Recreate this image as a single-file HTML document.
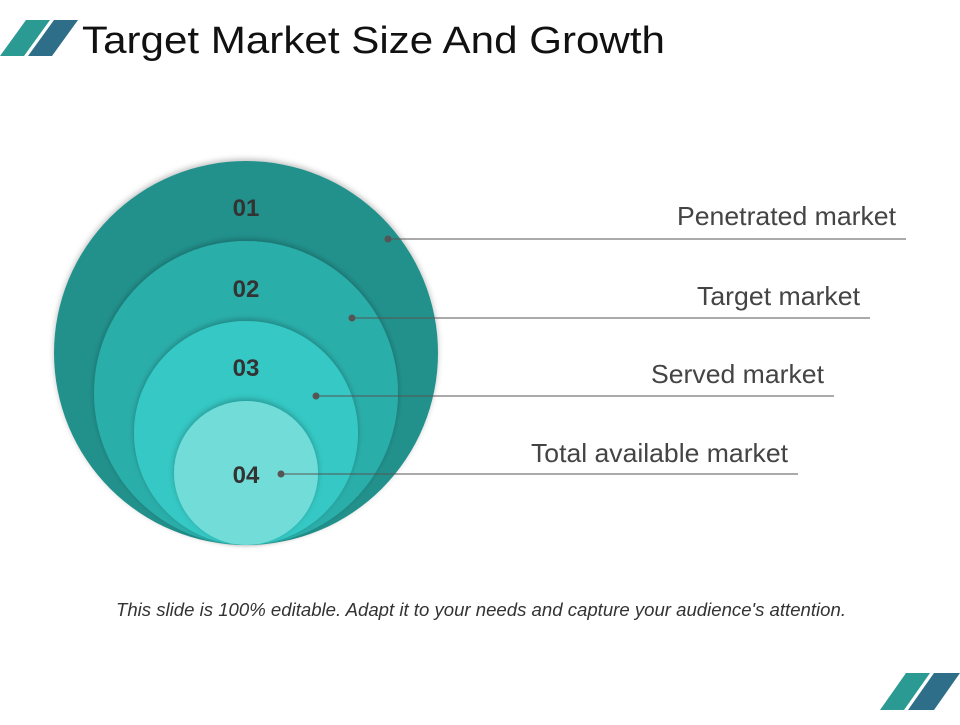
<!DOCTYPE html>
<html><head><meta charset="utf-8"><style>
body{margin:0;background:#fff;width:960px;height:720px;overflow:hidden;font-family:"Liberation Sans",sans-serif}
</style></head><body>
<svg width="960" height="720" viewBox="0 0 960 720">
<defs><filter id="sh" x="-20%" y="-20%" width="140%" height="140%"><feDropShadow dx="0" dy="-2" stdDeviation="3" flood-color="#000" flood-opacity="0.25"/></filter></defs>
<polygon points="0,56 26,20 50,20 24,56" fill="#2a9a92"/>
<polygon points="28,56 54,20 78,20 52,56" fill="#2e6e88"/>
<text x="82" y="53" font-size="38" fill="#111" textLength="583" lengthAdjust="spacingAndGlyphs">Target Market Size And Growth</text>
<g>
<circle cx="246" cy="353" r="192" fill="#23918c" filter="url(#sh)"/>
<circle cx="246" cy="393" r="152" fill="#2aaeaa" filter="url(#sh)"/>
<circle cx="246" cy="433" r="112" fill="#36c8c4" filter="url(#sh)"/>
<circle cx="246" cy="473" r="72" fill="#72ddd8" filter="url(#sh)"/>
</g>
<g font-size="24" font-weight="bold" fill="#333" text-anchor="middle">
<text x="246" y="216">01</text>
<text x="246" y="297">02</text>
<text x="246" y="376">03</text>
<text x="246" y="483">04</text>
</g>
<g stroke="#555" stroke-width="1" fill="#555">
<line x1="388" y1="239" x2="906" y2="239"/><circle cx="388" cy="239" r="3.5" stroke="none"/>
<line x1="352" y1="318" x2="870" y2="318"/><circle cx="352" cy="318" r="3.5" stroke="none"/>
<line x1="316" y1="396" x2="834" y2="396"/><circle cx="316" cy="396" r="3.5" stroke="none"/>
<line x1="281" y1="474" x2="798" y2="474"/><circle cx="281" cy="474" r="3.5" stroke="none"/>
</g>
<g font-size="26" fill="#444">
<text x="677" y="225" textLength="219" lengthAdjust="spacingAndGlyphs">Penetrated market</text>
<text x="697" y="305" textLength="163" lengthAdjust="spacingAndGlyphs">Target market</text>
<text x="651" y="383" textLength="173" lengthAdjust="spacingAndGlyphs">Served market</text>
<text x="531" y="462" textLength="257" lengthAdjust="spacingAndGlyphs">Total available market</text>
</g>
<text x="116" y="616" font-size="18" font-style="italic" fill="#333" textLength="730" lengthAdjust="spacingAndGlyphs">This slide is 100% editable. Adapt it to your needs and capture your audience's attention.</text>
<polygon points="880,710 906,673 930,673 904,710" fill="#2a9a92"/>
<polygon points="908,710 934,673 960,673 934,710" fill="#2e6e88"/>
</svg>
</body></html>
